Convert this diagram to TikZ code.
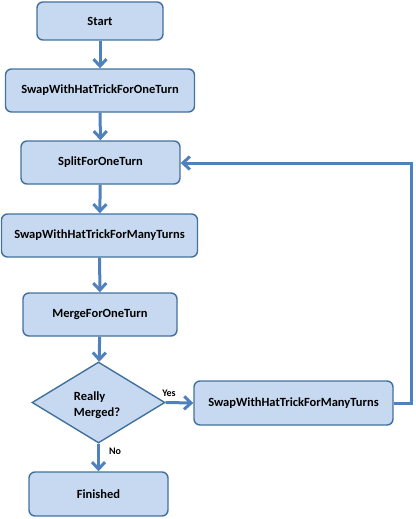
\documentclass[tikz,border=0pt]{standalone}
\usepackage{fontspec}
\setmainfont{Carlito}
\usetikzlibrary{shapes.geometric,arrows.meta}
\definecolor{boxfill}{HTML}{C6D9F1}
\definecolor{boxdraw}{HTML}{41719C}
\definecolor{arrowc}{HTML}{4F81BD}
\tikzset{
  stepbox/.style={draw=boxdraw, fill=boxfill, line width=1.4pt, rounded corners=6pt, inner sep=0pt, font=\bfseries\fontsize{12.5}{14}\selectfont, align=center},
  decision/.style={draw=boxdraw, fill=boxfill, line width=1.4pt, diamond, inner sep=0pt},
  flow/.style={draw=arrowc, line width=3pt, -{Straight Barb[length=7pt,width=13pt,line width=3pt]}},
  lbl/.style={font=\bfseries\fontsize{10}{11}\selectfont, inner sep=0pt}
}
\begin{document}
\begin{tikzpicture}[x=1pt,y=-1pt]
\useasboundingbox (0,0) rectangle (415,519);
\node[stepbox, minimum width=126pt, minimum height=38pt] (start) at (100,21) {Start};
\node[stepbox, minimum width=189pt, minimum height=43pt] (swap1) at (100,90.5) {SwapWithHatTrickForOneTurn};
\node[stepbox, minimum width=159pt, minimum height=43pt] (split) at (100.5,162.5) {SplitForOneTurn};
\node[stepbox, minimum width=196pt, minimum height=43pt] (swapm) at (99.5,235.5) {SwapWithHatTrickForManyTurns};
\node[stepbox, minimum width=154pt, minimum height=43pt] (merge) at (100,314.5) {MergeForOneTurn};
\node[decision, minimum width=133pt, minimum height=81pt, aspect=1.64] (dec) at (98.5,402.5) {};
\node[font=\bfseries\fontsize{12.5}{16}\selectfont, align=left, inner sep=0pt] (dectext) at (97,405) {Really\\Merged?};
\node[stepbox, minimum width=199pt, minimum height=44pt] (swapm2) at (293.5,403) {SwapWithHatTrickForManyTurns};
\node[stepbox, minimum width=139pt, minimum height=44pt] (fin) at (98.5,494) {Finished};
\coordinate (c1) at (411,403);
\coordinate (c2) at (411,163);
\draw[flow] (start) -- (swap1);
\draw[flow] (swap1) -- (split);
\draw[flow] (split) -- (swapm);
\draw[flow] (swapm) -- (merge);
\draw[flow] (merge) -- (dec);
\draw[flow] (dec.east) -- (swapm2.west);
\node[lbl] (yes) at (169,393) {Yes};
\draw[flow] (dec.south) -- (fin.north);
\node[lbl] (no) at (115,451) {No};
\draw[flow] (swapm2.east) -- (c1) -- (c2) -- (split.east |- c2);
\end{tikzpicture}
\end{document}
